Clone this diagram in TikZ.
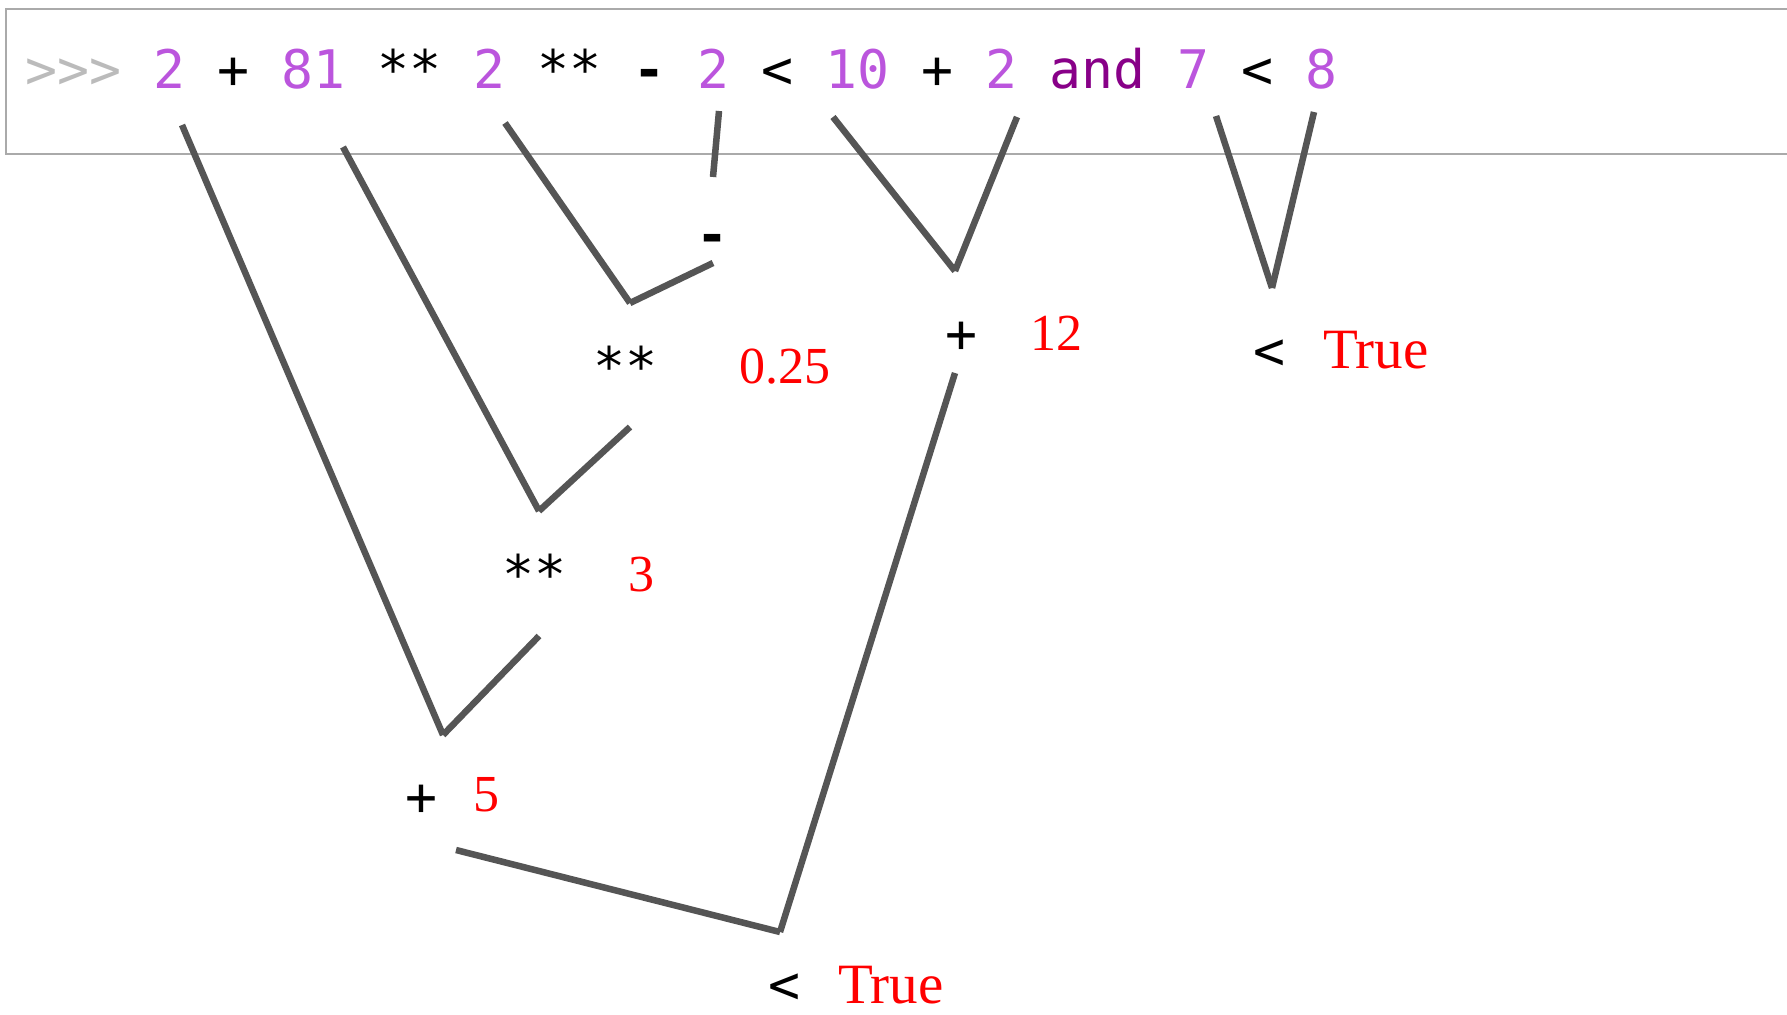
\documentclass[tikz,border=0pt]{standalone}
\usepackage{fontspec}
\newfontfamily\codefont{DejaVu Sans Mono}
\newfontfamily\valfont{Liberation Serif}
\definecolor{numcol}{HTML}{BB55DD}
\definecolor{kwcol}{HTML}{880088}
\definecolor{promptcol}{HTML}{BBBBBB}
\definecolor{wiregray}{HTML}{555555}
\definecolor{framegray}{HTML}{AAAAAA}
\begin{document}
\begin{tikzpicture}[x=1pt,y=-1pt,
  tok/.style={anchor=base west, inner sep=0pt, outer sep=0pt, font=\codefont\fontsize{53.16}{60}\selectfont},
  num/.style={tok, text=numcol},
  opr/.style={anchor=base, inner sep=0pt, outer sep=0pt, text=black, font=\codefont\fontsize{53.16}{60}\selectfont},
  val/.style={anchor=base west, inner sep=0pt, outer sep=0pt, text=red, font=\valfont\fontsize{52}{60}\selectfont},
  word/.style={val, font=\valfont\fontsize{57}{64}\selectfont},
  link/.style={draw=wiregray, line width=6.5pt, line cap=butt}]
\useasboundingbox (0,0) rectangle (1787,1014);
\fill[white] (0,0) rectangle (1787,1014);
% code frame
\draw[framegray, line width=2pt] (1790,9) -- (6,9) -- (6,154) -- (1790,154);
% code tokens
\node[tok, text=promptcol] (t0) at (25,89) {>>>};
\node[num] (t1) at (153,89) {2};
\node[tok] (t2) at (217,89) {+};
\node[num] (t3) at (281,89) {81};
\node[tok] (t4) at (377,89) {**};
\node[num] (t5) at (473,89) {2};
\node[tok] (t6) at (537,89) {**};
\node[tok, font=\codefont\bfseries\fontsize{53.16}{60}\selectfont] (t7) at (633,89) {-};
\node[num] (t8) at (697,89) {2};
\node[tok] (t9) at (761,89) {<};
\node[num] (t10) at (825,89) {10};
\node[tok] (t11) at (921,89) {+};
\node[num] (t12) at (985,89) {2};
\node[tok, text=kwcol] (t13) at (1049,89) {and};
\node[num] (t14) at (1177,89) {7};
\node[tok] (t15) at (1241,89) {<};
\node[num] (t16) at (1305,89) {8};
% tree operators
\node[opr, font=\codefont\bfseries\fontsize{53.16}{60}\selectfont] (o1) at (712,253) {-};
\node[opr] (o2) at (625,385) {**};
\node[opr] (o3) at (534,593) {**};
\node[opr] (o4) at (961,352) {+};
\node[opr] (o5) at (421,815) {+};
\node[opr] (o6) at (1269,369) {<};
\node[opr] (o7) at (784,1003) {<};
% values
\node[val] (v1) at (739,383) {0.25};
\node[val] (v2) at (1030,350) {12};
\node[val] (v3) at (628,591) {3};
\node[val] (v4) at (473,811) {5};
\node[word] (v5) at (1323,368) {True};
\node[word] (v6) at (838,1003) {True};
% connector end points
\coordinate (a1) at (182,125);
\coordinate (a2) at (343,147);
\coordinate (a3) at (505,123);
\coordinate (a4) at (719,111);
\coordinate (a5) at (833,117);
\coordinate (a6) at (1017,117);
\coordinate (a7) at (1216,116);
\coordinate (a8) at (1314,112);
\coordinate (k1) at (443,735);
\coordinate (e1) at (539,636);
\coordinate (k2) at (539,511);
\coordinate (e2) at (630,427);
\coordinate (k3) at (630,303);
\coordinate (e3) at (713,263);
\coordinate (e4) at (713,177);
\coordinate (k5) at (955,271);
\coordinate (k6) at (1272,288);
\coordinate (s7) at (955,373);
\coordinate (k7) at (780,932);
\coordinate (e7) at (456,850);
% connectors
\draw[link] (a1) -- (k1);
\draw[link] (k1) -- (e1);
\draw[link] (a2) -- (k2);
\draw[link] (k2) -- (e2);
\draw[link] (a3) -- (k3);
\draw[link] (k3) -- (e3);
\draw[link] (a4) -- (e4);
\draw[link] (a5) -- (k5);
\draw[link] (k5) -- (a6);
\draw[link] (a7) -- (k6);
\draw[link] (k6) -- (a8);
\draw[link] (s7) -- (k7);
\draw[link] (k7) -- (e7);
\end{tikzpicture}
\end{document}
